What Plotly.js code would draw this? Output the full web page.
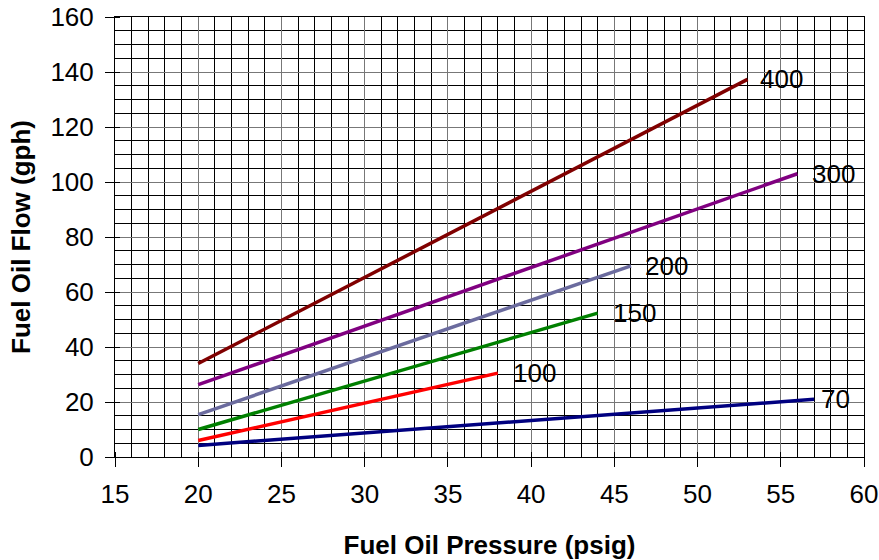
<!DOCTYPE html>
<html>
<head>
<meta charset="utf-8">
<script src="https://cdn.plot.ly/plotly-3.0.1.min.js"></script>
<style>html,body{margin:0;padding:0;background:#fff;}#chart{width:879px;height:560px;}</style>
</head>
<body>
<div id="chart"></div>
<script>
// Series: nozzle size labels, pressure (psig) and flow (gph) endpoints
var seriesNames = ["400", "300", "200", "150", "100", "70"];
var pressure400 = [20, 53];   var flow400 = [34, 137.3];
var pressure300 = [20, 56];   var flow300 = [26.3, 103];
var pressure200 = [20, 46];   var flow200 = [15.4, 69.5];
var pressure150 = [20, 44];   var flow150 = [10, 52.3];
var pressure100 = [20, 38];   var flow100 = [6, 30.5];
var pressure70  = [20, 57];   var flow70  = [4.2, 21];
var colors = ["#800000", "#800080", "#6B6B9E", "#008000", "#FF0000", "#000080"];

var xs = [pressure400, pressure300, pressure200, pressure150, pressure100, pressure70];
var ys = [flow400, flow300, flow200, flow150, flow100, flow70];
var labelShift = [11, 13, 12, 13, 13, 5];

var traces = [];
var annotations = [];
for (var i = 0; i < seriesNames.length; i++) {
  traces.push({
    x: xs[i], y: ys[i], type: "scatter", mode: "lines",
    name: seriesNames[i],
    line: {color: colors[i], width: 3.5},
    hoverinfo: "skip"
  });
  var n = xs[i].length - 1;
  annotations.push({
    x: xs[i][n], y: ys[i][n], xref: "x", yref: "y",
    text: seriesNames[i], showarrow: false,
    xanchor: "left", yanchor: "middle", xshift: labelShift[i],
    font: {family: "Liberation Sans, Arial, sans-serif", size: 26, color: "#000"}
  });
}

var font = {family: "Liberation Sans, Arial, sans-serif", size: 26, color: "#000"};
var titleFont = {family: "Liberation Sans, Arial, sans-serif", size: 26, color: "#000", weight: "bold"};
var layout = {
  width: 879, height: 560,
  margin: {l: 115, r: 15, t: 17, b: 103},
  paper_bgcolor: "#fff", plot_bgcolor: "#fff",
  showlegend: false,
  font: font,
  xaxis: {
    range: [15, 60], dtick: 5, tick0: 15,
    showgrid: true, gridcolor: "#777", gridwidth: 1,
    ticks: "outside", ticklen: 9, tickcolor: "#000", tickwidth: 1,
    showline: true, linecolor: "#000", linewidth: 1, mirror: true,
    zeroline: false,
    tickfont: font,
    ticklabelstandoff: 5,
    minor: {dtick: 1, showgrid: true, gridcolor: "#000", gridwidth: 1, ticks: "inside", ticklen: 5, tickcolor: "#000"},
    title: {text: "Fuel Oil Pressure (psig)", font: titleFont, standoff: 30}
  },
  yaxis: {
    range: [0, 160], dtick: 20, tick0: 0,
    showgrid: true, gridcolor: "#777", gridwidth: 1,
    ticks: "outside", ticklen: 9, tickcolor: "#000", tickwidth: 1,
    showline: true, linecolor: "#000", linewidth: 1, mirror: true,
    zeroline: false,
    tickfont: font,
    ticklabelstandoff: 6,
    minor: {dtick: 5, showgrid: true, gridcolor: "#000", gridwidth: 1, ticks: "inside", ticklen: 5, tickcolor: "#000"},
    title: {text: "Fuel Oil Flow (gph)", font: titleFont, standoff: 12}
  },
  annotations: annotations
};

Plotly.newPlot("chart", traces, layout, {staticPlot: true, displayModeBar: false});
</script>
</body>
</html>
